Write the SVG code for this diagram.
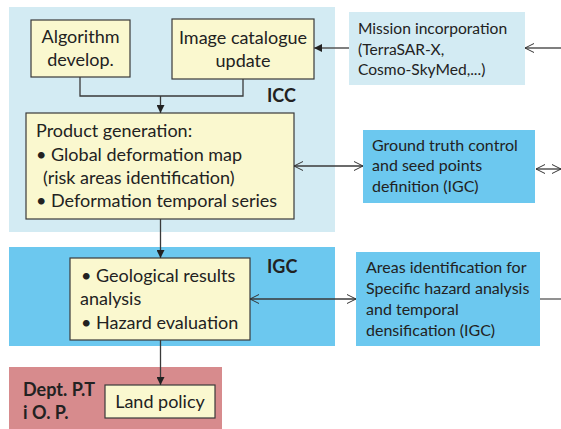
<svg xmlns="http://www.w3.org/2000/svg" width="561" height="429" viewBox="0 0 561 429">
<style>
.t{font-family:Lato,"Liberation Sans",sans-serif;font-size:18px;fill:#222}
.s{font-size:16px}
.m{font-size:15.6px}
.b{font-family:Lato,"Liberation Sans",sans-serif;font-weight:bold;font-size:18px;fill:#222}
.box{fill:#faf8cf;stroke:#3a3a3a;stroke-width:1.2}
.c{fill:none;stroke:#3a3a3a;stroke-width:1.3}
.g{fill:none;stroke:#555;stroke-width:1.3}
</style>
<defs>
<marker id="fa" viewBox="0 0 10 10" refX="10" refY="5" markerWidth="8" markerHeight="8" markerUnits="userSpaceOnUse" orient="auto"><path d="M0,0 L10,5 L0,10 z" fill="#222"/></marker>
<marker id="ch" viewBox="0 0 10 12" refX="10" refY="6" markerWidth="9" markerHeight="11" markerUnits="userSpaceOnUse" orient="auto-start-reverse"><path d="M0,1 L10,6 L0,11" fill="none" stroke="#333" stroke-width="1.1"/></marker>
</defs>
<g id="icc-area"><rect x="9" y="7" width="326" height="225" fill="#d3ebf3"/><text class="b" x="267" y="102">ICC</text></g>
<g id="igc-area"><rect x="9" y="247" width="326" height="99" fill="#6cc8ef"/><text class="b" x="267" y="273">IGC</text></g>
<g id="dept-area"><rect x="9" y="367" width="213" height="62" fill="#d78b8d"/><text class="b" x="23" y="396">Dept. P.T</text><text class="b" x="23" y="419">i O. P.</text></g>
<g id="algorithm"><rect class="box" x="31" y="20" width="99" height="57"/><text class="t" x="80.5" y="43" text-anchor="middle">Algorithm</text><text class="t" x="80.5" y="66" text-anchor="middle">develop.</text></g>
<g id="catalogue"><rect class="box" x="172" y="19" width="142" height="60"/><text class="t" x="243" y="44" text-anchor="middle">Image catalogue</text><text class="t" x="243" y="67" text-anchor="middle">update</text></g>
<g id="product"><rect class="box" x="26" y="113" width="268" height="106"/><text class="t" x="36" y="137">Product generation:</text><text class="t" x="36" y="161">• Global deformation map</text><text class="t" x="43" y="184">(risk areas identification)</text><text class="t" x="36" y="207">• Deformation temporal series</text></g>
<g id="mission"><rect x="349" y="12" width="176" height="73" fill="#d3ebf3"/><text class="t m" x="358" y="34">Mission incorporation</text><text class="t m" x="358" y="55">(TerraSAR-X,</text><text class="t m" x="358" y="75">Cosmo-SkyMed,...)</text></g>
<g id="ground"><rect x="363" y="130" width="172" height="73" fill="#6cc8ef"/><text class="t s" x="372" y="151">Ground truth control</text><text class="t s" x="372" y="171">and seed points</text><text class="t s" x="372" y="192">definition (IGC)</text></g>
<g id="geology"><rect class="box" x="70" y="258" width="180" height="82"/><text class="t" x="81" y="282">• Geological results</text><text class="t" x="80" y="305">analysis</text><text class="t" x="81" y="329">• Hazard evaluation</text></g>
<g id="areas"><rect x="356" y="252" width="184" height="94" fill="#6cc8ef"/><text class="t s" x="366" y="273">Areas identification for</text><text class="t s" x="366" y="294">Specific hazard analysis</text><text class="t s" x="366" y="315">and temporal</text><text class="t s" x="366" y="336">densification (IGC)</text></g>
<g id="land"><rect class="box" x="105" y="385" width="110" height="33"/><text class="t" x="160" y="408" text-anchor="middle">Land policy</text></g>
<g id="connectors">
<polyline class="c" points="80,77 80,96 243,96 243,79"/>
<line class="c" x1="160.5" y1="96" x2="160.5" y2="113" marker-end="url(#fa)"/>
<line class="g" x1="349" y1="48" x2="314" y2="48" marker-end="url(#fa)"/>
<line class="g" x1="561" y1="48" x2="525" y2="48" marker-end="url(#ch)"/>
<line class="c" x1="294" y1="166" x2="363" y2="166" marker-start="url(#ch)" marker-end="url(#ch)"/>
<line class="c" x1="536" y1="169" x2="561" y2="169" marker-start="url(#ch)" marker-end="url(#ch)"/>
<line class="c" x1="160.5" y1="219" x2="160.5" y2="258" marker-end="url(#fa)"/>
<line class="c" x1="250" y1="299" x2="356" y2="299" marker-start="url(#ch)" marker-end="url(#ch)"/>
<line class="g" x1="540" y1="299" x2="561" y2="299"/>
<line class="c" x1="160.5" y1="340" x2="160.5" y2="385" marker-end="url(#fa)"/>
</g>
</svg>
